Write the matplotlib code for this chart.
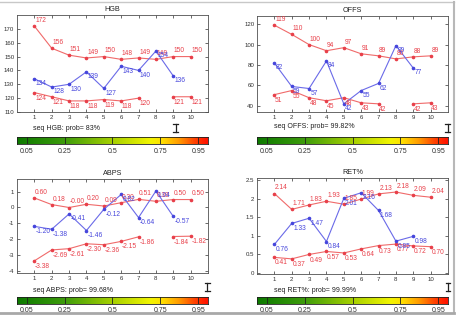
import numpy as np
import matplotlib
matplotlib.use("Agg")
import matplotlib.pyplot as plt
from matplotlib.colors import LinearSegmentedColormap
from matplotlib.lines import Line2D

plt.rcParams['font.family'] = ['Liberation Sans', 'DejaVu Sans']

nan = np.nan
x_vals = np.arange(1, 11)

hgb_up = [172, 156, 151, 149, 150, 148, 149, 148, 150, 150]
hgb_lo = [124, 121, 118, 118, 119, 118, 120, nan, 121, 121]
hgb_bl = [134, 128, 130, 139, 127, 143, 140, 154, 136]

offs_up = [119, 110, 100, 94, 97, 91, 89, 86, 88, 89]
offs_lo = [51, 55, 48, 45, 48, 43, 42, nan, 42, 43]
offs_bl = [82, 59, 57, 84, 42, 55, 62, 99, 77]

abps_up = [0.60, 0.18, -0.004, 0.20, 0.09, 0.30, 0.51, 0.39, 0.50, 0.50]
abps_lo = [-3.38, -2.69, -2.61, -2.30, -2.36, -2.15, -1.86, nan, -1.84, -1.82]
abps_bl = [-1.20, -1.38, -0.41, -1.46, -0.12, 0.82, -0.64, 1.04, -0.57]

ret_up = [2.14, 1.71, 1.83, 1.93, 1.85, 1.99, 2.13, 2.18, 2.09, 2.04]
ret_lo = [0.41, 0.37, 0.49, 0.57, 0.53, 0.64, 0.73, 0.77, 0.72, 0.70]
ret_bl = [0.76, 1.33, 1.47, 0.84, 2.01, 2.16, 1.68, 0.85, 0.98]

titles = ["HGB", "OFFS", "ABPS", "RET%"]
probs = [0.83, 0.9982, 0.9968, 0.9999]
prob_labels = ["83%", "99.82%", "99.68%", "99.99%"]
ylims = [(110, 180), (34, 128), (-4.15, 1.8), (-0.04, 2.56)]
yticks = [[110, 120, 130, 140, 150, 160, 170], [40, 60, 80, 100, 120],
          [-4, -3, -2, -1, 0, 1], [0, 0.5, 1, 1.5, 2, 2.5]]
ytick_labels = [["110", "120", "130", "140", "150", "160", "170"],
                ["40", "60", "80", "100", "120"],
                ["-4", "-3", "-2", "-1", "0", "1"],
                ["0", "0.5", "1", "1.5", "2", "2.5"]]
fmts = ["{:.0f}", "{:.0f}", "{:.2f}", "{:.2f}"]
data = [(hgb_up, hgb_lo, hgb_bl), (offs_up, offs_lo, offs_bl),
        (abps_up, abps_lo, abps_bl), (ret_up, ret_lo, ret_bl)]
cbar_ticks = [0.05, 0.25, 0.5, 0.75, 0.95]
cbar_labels = ["0.05", "0.25", "0.5", "0.75", "0.95"]

W, H = 458, 322
fig = plt.figure(figsize=(W / 100, H / 100), dpi=100)
fig.patch.set_facecolor('white')

def fr(left, top, right, bottom):
    return [left / W, 1 - bottom / H, (right - left) / W, (bottom - top) / H]

ax_boxes = [fr(17, 15, 208, 112), fr(257, 16, 448, 112),
            fr(17, 179, 208, 273), fr(257, 178, 448, 274)]
cb_boxes = [fr(17, 137.5, 208, 144.5), fr(257, 137.5, 448, 144.5),
            fr(17, 297, 208, 304), fr(257, 296.5, 448, 303.5)]
txt_pos = [(33, 128), (274, 127), (33, 290.5), (274, 290.5)]

RED_L = '#f06a6a'
RED_T = '#e8404a'
BLUE_L = '#6a6ae8'
BLUE_T = '#4646dc'

cmap = LinearSegmentedColormap.from_list('gyr', [
    (0.0, '#0c7a00'), (0.25, '#3e9c0c'), (0.5, '#a6d000'),
    (0.70, '#f2f400'), (0.76, '#ffe000'), (0.85, '#ff9a00'),
    (0.93, '#ff4400'), (1.0, '#ff1000')])

for i in range(4):
    ax = fig.add_axes(ax_boxes[i])
    up, lo, bl = data[i]
    up = np.array(up, float); lo = np.array(lo, float); bl = np.array(bl, float)
    xb = x_vals[:len(bl)]
    ax.plot(x_vals, up, '-', color=RED_L, lw=0.8, marker='o', ms=1.6,
            mfc=RED_T, mec=RED_T)
    ax.plot(x_vals, lo, '-', color=RED_L, lw=0.8, marker='o', ms=1.6,
            mfc=RED_T, mec=RED_T)
    ax.plot(xb, bl, '-', color=BLUE_L, lw=0.8, marker='o', ms=1.6,
            mfc=BLUE_T, mec=BLUE_T)
    for xv, v in zip(x_vals, up):
        if not np.isnan(v):
            ax.annotate(fmts[i].format(v), (xv, v), xytext=(0.5, 1.5),
                        textcoords='offset points', ha='left', va='bottom',
                        fontsize=4.8, color=RED_T)
    for xv, v in zip(x_vals, lo):
        if not np.isnan(v):
            ax.annotate(fmts[i].format(v), (xv, v), xytext=(0.5, -1.5),
                        textcoords='offset points', ha='left', va='top',
                        fontsize=4.8, color=RED_T)
    for xv, v in zip(xb, bl):
        ax.annotate(fmts[i].format(v), (xv, v), xytext=(1.0, -1.0),
                    textcoords='offset points', ha='left', va='top',
                    fontsize=4.8, color=BLUE_T)
    ax.set_xlim(0, 11)
    ax.set_ylim(*ylims[i])
    ax.set_xticks(x_vals)
    ax.set_xticklabels([str(v) for v in x_vals])
    ax.set_yticks(yticks[i])
    ax.set_yticklabels(ytick_labels[i])
    ax.tick_params(direction='in', length=2, width=0.5, labelsize=4.4,
                   colors='#303030', top=True, right=True, pad=2)
    for s in ax.spines.values():
        s.set_color('#505050')
        s.set_linewidth(0.6)
    ax.set_title(titles[i], fontsize=5.2, color='#202020', pad=3)

    fig.text(txt_pos[i][0] / W, 1 - txt_pos[i][1] / H,
             f"seq {titles[i]}: prob= {prob_labels[i]}", fontsize=5.0,
             color='#202020', ha='left', va='center')

    cax = fig.add_axes(cb_boxes[i])
    grad = np.linspace(0, 1, 256).reshape(1, -1)
    cax.imshow(grad, aspect='auto', cmap=cmap, extent=[0, 1, 0, 1],
               vmin=0, vmax=1)
    cax.set_xlim(0, 1); cax.set_ylim(0, 1)
    for t in cbar_ticks:
        cax.axvline(t, color='#202020', lw=0.6)
    cax.set_yticks([])
    cax.set_xticks(cbar_ticks)
    cax.set_xticklabels(cbar_labels)
    cax.tick_params(length=0, labelsize=5.0, colors='#303030', pad=2.5)
    for s in cax.spines.values():
        s.set_color('#202020'); s.set_linewidth(0.6)
    # probability marker (I-beam)
    p = probs[i]
    cax.plot([p, p], [1.8, 2.95], color='#202020', lw=0.9, clip_on=False)
    cax.plot([p - 0.012, p + 0.012], [1.8, 1.8], color='#202020', lw=0.9,
             clip_on=False)
    cax.plot([p - 0.012, p + 0.012], [2.95, 2.95], color='#202020', lw=0.9,
             clip_on=False)

# window frame lines
fig.add_artist(Line2D([0, 454 / W], [1 - 2 / H, 1 - 2 / H], color='#c8c8c8', lw=1.0))
fig.add_artist(Line2D([454 / W, 454 / W], [1 - 2 / H, 1 - 313 / H], color='#b8b8b8', lw=1.5))
fig.add_artist(Line2D([0, 454 / W], [1 - 313 / H, 1 - 313 / H], color='#a8a8a8', lw=2.0))

fig.savefig('out.png', dpi=100, facecolor='white')
